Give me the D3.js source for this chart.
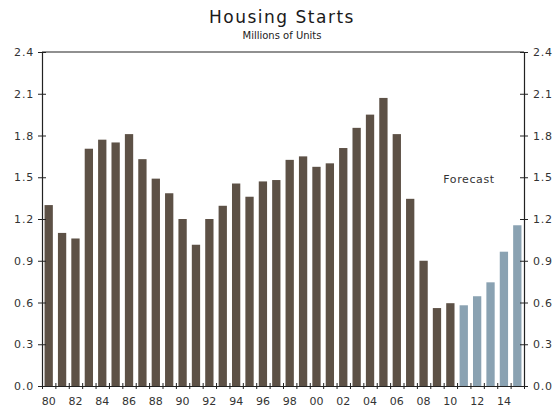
<!DOCTYPE html>
<html>
<head>
<meta charset="utf-8">
<script src="https://cdn.jsdelivr.net/npm/d3@7/dist/d3.min.js"></script>
<style>
  html, body { margin: 0; padding: 0; background: #fff; }
  svg { display: block; font-family: "DejaVu Sans", Verdana, sans-serif; }
</style>
</head>
<body>
<svg id="chart" width="556" height="410"></svg>
<script>
const years = d3.range(1980, 2016);
const actualValues = [1.30, 1.10, 1.06, 1.705, 1.77, 1.75, 1.81, 1.63, 1.49, 1.385,
  1.20, 1.015, 1.20, 1.295, 1.455, 1.36, 1.47, 1.48, 1.625, 1.65,
  1.575, 1.60, 1.71, 1.855, 1.95, 2.07, 1.81, 1.345, 0.90, 0.56, 0.595];
const forecastValues = [0.58, 0.645, 0.745, 0.965, 1.155];
const yTicks = [0, 0.3, 0.6, 0.9, 1.2, 1.5, 1.8, 2.1, 2.4];
const xLabelYears = d3.range(1980, 2016, 2);

const data = years.map((yr, i) => ({
  year: yr,
  value: i < actualValues.length ? actualValues[i] : forecastValues[i - actualValues.length],
  forecast: i >= actualValues.length
}));

const svg = d3.select("#chart");
const L = 42, R = 524, T = 52, B = 386;

const x = d3.scaleBand().domain(years).range([L, R]).paddingInner(0.38).paddingOuter(0.19);
const xEdge = d3.scaleLinear().domain([0, years.length]).range([L, R]);
const y = d3.scaleLinear().domain([0, 2.4]).range([B, T]);

// bars
svg.append("g").selectAll("rect").data(data).join("rect")
  .attr("x", d => x(d.year))
  .attr("width", x.bandwidth())
  .attr("y", d => y(d.value))
  .attr("height", d => y(0) - y(d.value))
  .attr("fill", d => d.forecast ? "#8aa2b2" : "#5d5146");

const axisColor = "#222";

// left axis
const gl = svg.append("g").attr("transform", `translate(${L},0)`)
  .call(d3.axisLeft(y).tickValues(yTicks).tickFormat(d3.format(".1f")).tickSize(4).tickPadding(4));
gl.selectAll(".tick line").attr("x2", 4 - 8).attr("x1", 4);
// right axis
const gr = svg.append("g").attr("transform", `translate(${R},0)`)
  .call(d3.axisRight(y).tickValues(yTicks).tickFormat(d3.format(".1f")).tickSize(4).tickPadding(5));
gr.selectAll(".tick line").attr("x1", -4).attr("x2", 4);

// bottom axis ticks at band edges
const gb = svg.append("g").attr("transform", `translate(0,${B})`)
  .call(d3.axisBottom(xEdge).tickValues(d3.range(0, years.length + 1)).tickFormat("").tickSize(3).tickSizeOuter(0));
gb.selectAll(".tick line").attr("y1", -3).attr("y2", 3);

// bottom labels
const gx = svg.append("g").attr("transform", `translate(0,${B})`)
  .call(d3.axisBottom(x).tickValues(xLabelYears).tickFormat(d => String(d).slice(2)).tickSize(0).tickPadding(11));
gx.select(".domain").remove();

// top line
svg.append("line").attr("x1", L).attr("x2", R).attr("y1", T).attr("y2", T)
  .attr("stroke", axisColor).attr("stroke-width", 1.2);

svg.selectAll(".domain").attr("stroke", axisColor).attr("stroke-width", 1.2);
svg.selectAll(".tick line").attr("stroke", axisColor);
svg.selectAll(".tick text").attr("fill", "#333").style("font-size", "11px")
  .style("font-family", "'DejaVu Sans', Verdana, sans-serif");
gl.selectAll(".tick text").style("letter-spacing", "0.8px");
gr.selectAll(".tick text").style("letter-spacing", "0.8px");

// titles
svg.append("text").attr("x", 282).attr("y", 23).attr("text-anchor", "middle")
  .style("font-size", "17px").style("letter-spacing", "1.5px").attr("fill", "#1a1a1a").text("Housing Starts");
svg.append("text").attr("x", 282).attr("y", 39).attr("text-anchor", "middle")
  .style("font-size", "10px").attr("fill", "#222").text("Millions of Units");

svg.append("text").attr("x", 469).attr("y", 183).attr("text-anchor", "middle")
  .style("font-size", "11px").style("letter-spacing", "0.6px").attr("fill", "#333").text("Forecast");
</script>
</body>
</html>
